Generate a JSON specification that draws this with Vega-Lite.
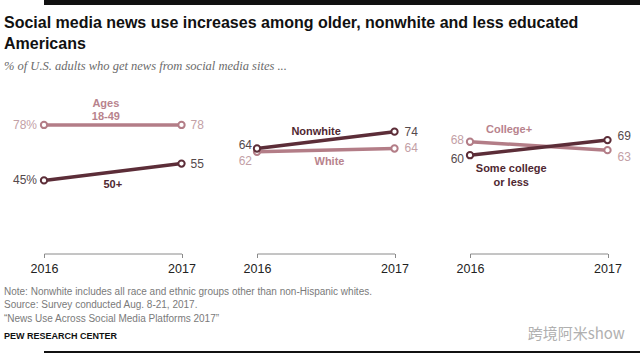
{
  "$schema": "https://vega.github.io/schema/vega-lite/v6.json",
  "background": "white",
  "padding": {"left": 3, "top": 0, "right": 0, "bottom": 0},
  "config": {"view": {"stroke": null}, "font": "Liberation Sans"},
  "datasets": {
    "ages": [
      {"year": 2016, "group": "Ages 18-49", "value": 78},
      {"year": 2017, "group": "Ages 18-49", "value": 78},
      {"year": 2016, "group": "50+", "value": 45},
      {"year": 2017, "group": "50+", "value": 55}
    ],
    "race": [
      {"year": 2016, "group": "White", "value": 62},
      {"year": 2017, "group": "White", "value": 64},
      {"year": 2016, "group": "Nonwhite", "value": 64},
      {"year": 2017, "group": "Nonwhite", "value": 74}
    ],
    "edu": [
      {"year": 2016, "group": "College+", "value": 68},
      {"year": 2017, "group": "College+", "value": 63},
      {"year": 2016, "group": "Some college or less", "value": 60},
      {"year": 2017, "group": "Some college or less", "value": 69}
    ]
  },
  "spacing": 9,
  "vconcat": [
    {
      "width": 636, "height": 5,
      "view": {"fill": "#111111", "stroke": null},
      "data": {"values": []},
      "mark": "rule",
      "encoding": {}
    },
    {
      "title": {"text": "跨境阿米show", "orient": "bottom", "anchor": "end", "font": "Noto Sans CJK SC", "fontSize": 15, "fontWeight": "normal", "color": "#b0b0b0", "offset": -14, "dx": -6},
      "vconcat": [
        {
          "title": {
            "text": ["Social media news use increases among older, nonwhite and less educated", "Americans"],
            "subtitle": "% of U.S. adults who get news from social media sites ...",
            "anchor": "start", "font": "Liberation Sans", "fontSize": 16, "fontWeight": "bold", "color": "#111111", "lineHeight": 21,
            "subtitleFont": "Liberation Serif", "subtitleFontSize": 12.5, "subtitleFontStyle": "italic", "subtitleColor": "#6b6b6b", "subtitlePadding": 8, "offset": 16
          },
          "vconcat": [
            {
              "title": {
                "text": ["Note: Nonwhite includes all race and ethnic groups other than non-Hispanic whites.", "Source: Survey conducted Aug. 8-21, 2017.", "“News Use Across Social Media Platforms 2017”"],
                "orient": "bottom", "anchor": "start", "font": "Liberation Sans", "fontSize": 10, "fontWeight": "normal", "color": "#7a7a7a", "lineHeight": 13.3, "dx": -9,
                "subtitle": "PEW RESEARCH CENTER", "subtitleFont": "Liberation Sans", "subtitleFontWeight": "bold", "subtitleFontSize": 9, "subtitleColor": "#111111", "subtitlePadding": 8, "offset": 12
              },
              "bounds": "flush",
              "spacing": 75,
              "hconcat": [
                {
                  "width": 137.5, "height": 168,
                  "data": {"name": "ages"},
                  "encoding": {
                    "x": {"field": "year", "type": "quantitative", "scale": {"domain": [2016, 2017], "nice": false, "zero": false},
                      "axis": {"values": [2016, 2017], "format": "d", "title": null, "grid": false, "domainColor": "#8a8a8a", "tickColor": "#8a8a8a", "tickSize": 4, "labelFontSize": 12.5, "labelColor": "#222222", "labelPadding": 5, "offset": -2.5, "labelFlush": false}},
                    "y": {"field": "value", "type": "quantitative", "scale": {"domain": [0, 100]}, "axis": null}
                  },
                  "layer": [
                    {"mark": {"type": "line", "strokeWidth": 3.5}, "encoding": {"stroke": {"field": "group", "type": "nominal", "scale": {"domain": ["Ages 18-49", "50+"], "range": ["#b37d87", "#5c2d38"]}, "legend": null}}},
                    {"mark": {"type": "point", "filled": true, "fill": "white", "size": 40, "strokeWidth": 2, "opacity": 1}, "encoding": {"stroke": {"field": "group", "type": "nominal", "legend": null}}},
                    {"transform": [{"filter": "datum.year == 2016"}], "mark": {"type": "text", "align": "right", "baseline": "middle", "dx": -7, "fontSize": 12, "text": {"expr": "datum.value + '%'"}}, "encoding": {"fill": {"field": "group", "type": "nominal", "scale": {"domain": ["Ages 18-49", "50+"], "range": ["#c3a0a6", "#55494c"]}, "legend": null}}},
                    {"transform": [{"filter": "datum.year == 2017"}], "mark": {"type": "text", "align": "left", "baseline": "middle", "dx": 9, "fontSize": 12}, "encoding": {"text": {"field": "value"}, "fill": {"field": "group", "type": "nominal", "legend": null}}},
                    {"transform": [{"filter": "datum.year == 2016 && datum.group == 'Ages 18-49'"}], "mark": {"type": "text", "text": ["Ages", "18-49"], "align": "center", "baseline": "alphabetic", "dy": -18, "lineHeight": 13, "fontSize": 11, "fontWeight": "bold", "color": "#b8838d"}, "encoding": {"x": {"datum": 2016.45}, "y": {"datum": 78}}},
                    {"transform": [{"filter": "datum.year == 2017 && datum.group == '50+'"}], "mark": {"type": "text", "text": "50+", "align": "center", "baseline": "alphabetic", "dy": 16.4, "fontSize": 11, "fontWeight": "bold", "color": "#4f2832"}, "encoding": {"x": {"datum": 2016.5}, "y": {"datum": 50}}}
                  ]
                },
                {
                  "width": 137.5, "height": 168,
                  "data": {"name": "race"},
                  "encoding": {
                    "x": {"field": "year", "type": "quantitative", "scale": {"domain": [2016, 2017], "nice": false, "zero": false},
                      "axis": {"values": [2016, 2017], "format": "d", "title": null, "grid": false, "domainColor": "#8a8a8a", "tickColor": "#8a8a8a", "tickSize": 4, "labelFontSize": 12.5, "labelColor": "#222222", "labelPadding": 5, "offset": -2.5, "labelFlush": false}},
                    "y": {"field": "value", "type": "quantitative", "scale": {"domain": [0, 100]}, "axis": null}
                  },
                  "layer": [
                    {"mark": {"type": "line", "strokeWidth": 3.5}, "encoding": {"stroke": {"field": "group", "type": "nominal", "scale": {"domain": ["White", "Nonwhite"], "range": ["#b37d87", "#5c2d38"]}, "legend": null}}},
                    {"mark": {"type": "point", "filled": true, "fill": "white", "size": 40, "strokeWidth": 2, "opacity": 1}, "encoding": {"stroke": {"field": "group", "type": "nominal", "legend": null}}},
                    {"transform": [{"filter": "datum.year == 2016 && datum.group == 'Nonwhite'"}], "mark": {"type": "text", "align": "right", "baseline": "middle", "dx": -5, "dy": -3, "fontSize": 12, "color": "#55494c"}, "encoding": {"text": {"field": "value"}}},
                    {"transform": [{"filter": "datum.year == 2016 && datum.group == 'White'"}], "mark": {"type": "text", "align": "right", "baseline": "middle", "dx": -5, "dy": 9, "fontSize": 12, "color": "#c3a0a6"}, "encoding": {"text": {"field": "value"}}},
                    {"transform": [{"filter": "datum.year == 2017"}], "mark": {"type": "text", "align": "left", "baseline": "middle", "dx": 10, "fontSize": 12}, "encoding": {"text": {"field": "value"}, "fill": {"field": "group", "type": "nominal", "scale": {"domain": ["White", "Nonwhite"], "range": ["#c3a0a6", "#55494c"]}, "legend": null}}},
                    {"transform": [{"filter": "datum.year == 2017 && datum.group == 'Nonwhite'"}], "mark": {"type": "text", "text": "Nonwhite", "align": "center", "baseline": "alphabetic", "dy": -5.5, "fontSize": 11, "fontWeight": "bold", "color": "#4f2832"}, "encoding": {"x": {"datum": 2016.43}, "y": {"datum": 68.5}}},
                    {"transform": [{"filter": "datum.year == 2017 && datum.group == 'White'"}], "mark": {"type": "text", "text": "White", "align": "center", "baseline": "alphabetic", "dy": 15, "fontSize": 11, "fontWeight": "bold", "color": "#b8838d"}, "encoding": {"x": {"datum": 2016.527}, "y": {"datum": 63}}}
                  ]
                },
                {
                  "width": 137.5, "height": 168,
                  "data": {"name": "edu"},
                  "encoding": {
                    "x": {"field": "year", "type": "quantitative", "scale": {"domain": [2016, 2017], "nice": false, "zero": false},
                      "axis": {"values": [2016, 2017], "format": "d", "title": null, "grid": false, "domainColor": "#8a8a8a", "tickColor": "#8a8a8a", "tickSize": 4, "labelFontSize": 12.5, "labelColor": "#222222", "labelPadding": 5, "offset": -2.5, "labelFlush": false}},
                    "y": {"field": "value", "type": "quantitative", "scale": {"domain": [0, 100]}, "axis": null}
                  },
                  "layer": [
                    {"mark": {"type": "line", "strokeWidth": 3.5}, "encoding": {"stroke": {"field": "group", "type": "nominal", "scale": {"domain": ["College+", "Some college or less"], "range": ["#b37d87", "#5c2d38"]}, "legend": null}}},
                    {"mark": {"type": "point", "filled": true, "fill": "white", "size": 40, "strokeWidth": 2, "opacity": 1}, "encoding": {"stroke": {"field": "group", "type": "nominal", "legend": null}}},
                    {"transform": [{"filter": "datum.year == 2016 && datum.group == 'College+'"}], "mark": {"type": "text", "align": "right", "baseline": "middle", "dx": -6, "dy": -2, "fontSize": 12, "color": "#c3a0a6"}, "encoding": {"text": {"field": "value"}}},
                    {"transform": [{"filter": "datum.year == 2016 && datum.group == 'Some college or less'"}], "mark": {"type": "text", "align": "right", "baseline": "middle", "dx": -6, "dy": 4, "fontSize": 12, "color": "#55494c"}, "encoding": {"text": {"field": "value"}}},
                    {"transform": [{"filter": "datum.year == 2017 && datum.group == 'Some college or less'"}], "mark": {"type": "text", "align": "left", "baseline": "middle", "dx": 10, "dy": -4, "fontSize": 12, "color": "#55494c"}, "encoding": {"text": {"field": "value"}}},
                    {"transform": [{"filter": "datum.year == 2017 && datum.group == 'College+'"}], "mark": {"type": "text", "align": "left", "baseline": "middle", "dx": 10, "dy": 7, "fontSize": 12, "color": "#c3a0a6"}, "encoding": {"text": {"field": "value"}}},
                    {"transform": [{"filter": "datum.year == 2016 && datum.group == 'College+'"}], "mark": {"type": "text", "text": "College+", "align": "center", "baseline": "alphabetic", "dy": -9, "fontSize": 11, "fontWeight": "bold", "color": "#b8838d"}, "encoding": {"x": {"datum": 2016.284}, "y": {"datum": 68}}},
                    {"transform": [{"filter": "datum.year == 2016 && datum.group == 'Some college or less'"}], "mark": {"type": "text", "text": ["Some college", "or less"], "align": "center", "baseline": "alphabetic", "dy": 17, "lineHeight": 13.5, "fontSize": 11, "fontWeight": "bold", "color": "#4f2832"}, "encoding": {"x": {"datum": 2016.3}, "y": {"datum": 60}}}
                  ]
                }
              ]
            }
          ]
        }
      ]
    },
    {
      "width": 636, "height": 2,
      "view": {"fill": "#111111", "stroke": null},
      "data": {"values": []},
      "mark": "rule",
      "encoding": {}
    }
  ]
}
